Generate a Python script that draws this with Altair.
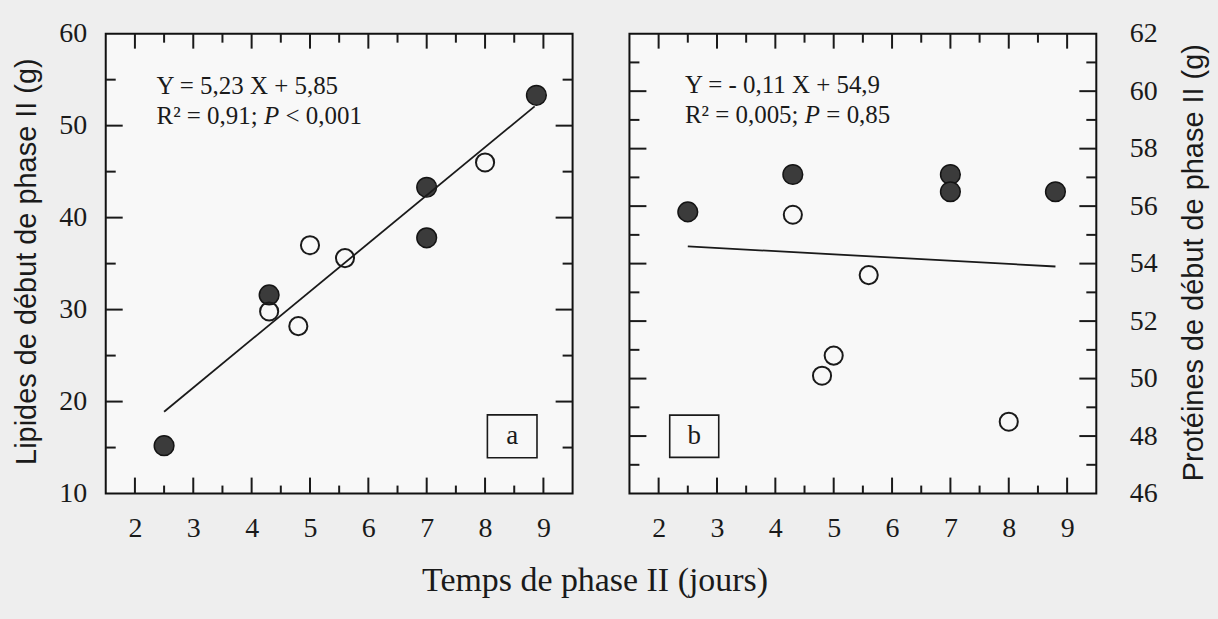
import altair as alt
import pandas as pd

# ---------------- data ----------------
# Panel a : lipids (g) vs duration of phase II (days)
a_filled_x = [2.5, 4.3, 7.0, 7.0, 8.88]
a_filled_y = [15.2, 31.6, 43.3, 37.8, 53.3]
a_open_x = [4.3, 4.8, 5.0, 5.6, 8.0]
a_open_y = [29.8, 28.2, 37.0, 35.6, 46.0]
a_line_x = [2.5, 8.85]
a_line_y = [18.9, 52.1]

# Panel b : proteins (g) vs duration of phase II (days)
b_filled_x = [2.5, 4.3, 7.0, 7.0, 8.8]
b_filled_y = [55.8, 57.1, 57.1, 56.5, 56.5]
b_open_x = [4.3, 4.8, 5.0, 5.6, 8.0]
b_open_y = [55.7, 50.1, 50.8, 53.6, 48.5]
b_line_x = [2.5, 8.8]
b_line_y = [54.6, 53.9]

# ticks / labels
x_labels = [2, 3, 4, 5, 6, 7, 8, 9]
x_minor = [2.5, 3.5, 4.5, 5.5, 6.5, 7.5, 8.5]
a_y_labels = [10, 20, 30, 40, 50, 60]
a_y_major = [20, 30, 40, 50]
a_y_minor = [15, 25, 35, 45, 55]
b_y_labels = [46, 48, 50, 52, 54, 56, 58, 60, 62]
b_y_major = [48, 50, 52, 54, 56, 58, 60]
b_y_minor = [47, 49, 51, 53, 55, 57, 59, 61]

# texts
x_title = "Temps de phase II (jours)"
a_title = "Lipides de début de phase II (g)"
b_title = "Protéines de début de phase II (g)"
a_eq = "Y = 5,23 X + 5,85"
a_r2 = "R² = 0,91;"
a_p = "P"
a_prest = "< 0,001"
b_eq = "Y = - 0,11 X + 54,9"
b_r2 = "R² = 0,005;"
b_p = "P"
b_prest = "= 0,85"
a_tag = "a"
b_tag = "b"

# annotation anchors (data coordinates)
a_text_x = 2.37
a_text_y = [54.35, 51.1]
b_text_x = 2.45
b_text_y = [60.2, 59.16]
a_box = [8.04, 8.89, 13.9, 18.55]
b_box = [2.19, 3.03, 47.26, 48.73]

W, H = 468, 461
INK = "#1a1a1a"
SERIF = "Liberation Serif"
SANS = "Liberation Sans"
FS_TXT = 25

xs = alt.Scale(domain=[1.5, 9.5], nice=False, zero=False)
ys_a = alt.Scale(domain=[10, 60], nice=False, zero=False)
ys_b = alt.Scale(domain=[46, 62], nice=False, zero=False)


def x_axis(title):
    kw = dict(values=x_labels, format="d", tickSize=0, domain=False, grid=False,
              labelFont=SERIF, labelFontSize=28, labelColor=INK, labelPadding=21,
              labelFlush=False, title=title)
    if title:
        kw.update(titleX=490, titleY=97, titleAlign="center",
                  titleBaseline="alphabetic", titleFont=SERIF, titleFontSize=34,
                  titleFontWeight="normal", titleColor=INK)
    return alt.Axis(**kw)


def panel(fx, fy, ox, oy, lx, ly, ys, y_axis, y_major, y_minor,
          eq, r2, p, prest, tx, ty, pdx, rdx, box, tag, title):
    xa = alt.X("x:Q", scale=xs)
    ya = alt.Y("y:Q", scale=ys)
    df_f = pd.DataFrame({"x": fx, "y": fy})
    df_o = pd.DataFrame({"x": ox, "y": oy})
    df_l = pd.DataFrame({"x": lx, "y": ly})

    filled = alt.Chart(df_f).mark_point(
        shape="circle", filled=True, size=390, fill="#3b3b3b",
        stroke="#141414", strokeWidth=1.5, opacity=1
    ).encode(x=alt.X("x:Q", scale=xs, axis=x_axis(title)),
             y=alt.Y("y:Q", scale=ys, axis=y_axis))
    opened = alt.Chart(df_o).mark_point(
        shape="circle", filled=False, size=330, stroke=INK, strokeWidth=2, opacity=1
    ).encode(x=xa, y=ya)
    line = alt.Chart(df_l).mark_line(color=INK, strokeWidth=1.8).encode(x=xa, y=ya)

    def rules(vals, horiz, v1, v2):
        d = pd.DataFrame({"v": vals})
        m = alt.Chart(d).mark_rule(color=INK, strokeWidth=2)
        if horiz:
            return m.encode(x=alt.X("v:Q", scale=xs),
                            y=alt.value(v1), y2=alt.value(v2))
        return m.encode(y=alt.Y("v:Q", scale=ys),
                        x=alt.value(v1), x2=alt.value(v2))

    ticks = [
        rules(x_labels, True, H, H - 16),
        rules(x_minor, True, H, H - 8),
        rules(x_labels, True, 0, 15),
        rules(x_minor, True, 0, 9),
        rules(y_major, False, 0, 17),
        rules(y_minor, False, 0, 10),
        rules(y_major, False, W, W - 17),
        rules(y_minor, False, W, W - 10),
    ]

    tdf = pd.DataFrame({"x": [tx, tx], "y": ty, "t": [eq, r2]})
    txt = alt.Chart(tdf).mark_text(
        align="left", baseline="middle", font=SERIF, fontSize=FS_TXT, color=INK
    ).encode(x=xa, y=ya, text="t:N")
    pdf = pd.DataFrame({"x": [tx], "y": [ty[1]], "t": [p]})
    ptxt = alt.Chart(pdf).mark_text(
        align="left", baseline="middle", font=SERIF, fontSize=FS_TXT, fontStyle="italic",
        color=INK, dx=pdx
    ).encode(x=xa, y=ya, text="t:N")
    rdf = pd.DataFrame({"x": [tx], "y": [ty[1]], "t": [prest]})
    rtxt = alt.Chart(rdf).mark_text(
        align="left", baseline="middle", font=SERIF, fontSize=FS_TXT, color=INK, dx=rdx
    ).encode(x=xa, y=ya, text="t:N")

    bdf = pd.DataFrame({"x": [box[0]], "x2": [box[1]], "y": [box[2]], "y2": [box[3]],
                        "cx": [(box[0] + box[1]) / 2], "cy": [(box[2] + box[3]) / 2],
                        "t": [tag]})
    rect = alt.Chart(bdf).mark_rect(fillOpacity=0, stroke=INK, strokeWidth=1.6).encode(
        x=alt.X("x:Q", scale=xs), x2="x2:Q",
        y=alt.Y("y:Q", scale=ys), y2="y2:Q")
    tag_t = alt.Chart(bdf).mark_text(
        align="center", baseline="middle", font=SERIF, fontSize=27, color=INK
    ).encode(x=alt.X("cx:Q", scale=xs), y=alt.Y("cy:Q", scale=ys),
             text="t:N")

    return alt.layer(filled, opened, line, *ticks, txt, ptxt, rtxt, rect, tag_t).properties(
        width=W, height=H)


ax_a = alt.Axis(orient="left", values=a_y_labels, format="d", tickSize=0, domain=False,
                grid=False, labelFont=SERIF, labelFontSize=28, labelColor=INK,
                labelPadding=19, labelFlush=False,
                title=a_title, titleFont=SANS, titleFontSize=29, titleFontWeight="normal",
                titleColor=INK, titleAngle=270, titleX=-79, titleY=228,
                titleAlign="center", titleBaseline="middle")
ax_b = alt.Axis(orient="right", values=b_y_labels, format="d", tickSize=0, domain=False,
                grid=False, labelFont=SERIF, labelFontSize=28, labelColor=INK,
                labelPadding=33, labelFlush=False, labelAlign="left",
                title=b_title, titleFont=SANS, titleFontSize=29, titleFontWeight="normal",
                titleColor=INK, titleAngle=270, titleX=97, titleY=229,
                titleAlign="center", titleBaseline="middle")

pa = panel(a_filled_x, a_filled_y, a_open_x, a_open_y, a_line_x, a_line_y, ys_a, ax_a,
           a_y_major, a_y_minor, a_eq, a_r2, a_p, a_prest, a_text_x, a_text_y,
           107.7, 129.3, a_box, a_tag, x_title)
pb = panel(b_filled_x, b_filled_y, b_open_x, b_open_y, b_line_x, b_line_y, ys_b, ax_b,
           b_y_major, b_y_minor, b_eq, b_r2, b_p, b_prest, b_text_x, b_text_y,
           120.2, 141.8, b_box, b_tag, "")

chart = alt.hconcat(pa, pb, spacing=57, bounds="flush").properties(
    padding={"left": 11, "top": 18, "right": 9, "bottom": 20},
    background="#eeeeee",
).configure_view(stroke="#111111", strokeWidth=2, fill="#f8f8f8")

chart.save("out.html", embed_options={"renderer": "svg", "actions": False})
